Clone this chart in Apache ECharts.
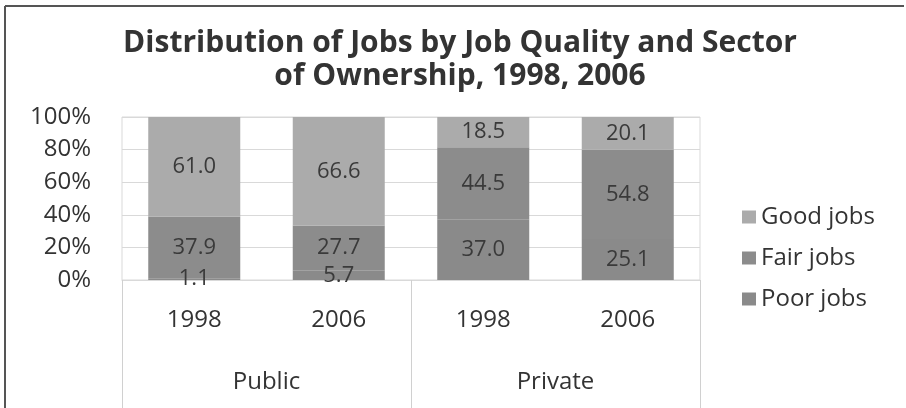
<!DOCTYPE html>
<html>
<head>
<meta charset="utf-8">
<script src="https://cdn.jsdelivr.net/npm/echarts@6/dist/echarts.min.js"></script>
<style>
html,body{margin:0;padding:0;background:#fff;}
#chart{width:906px;height:408px;}
</style>
</head>
<body>
<div id="chart"></div>
<script>
// Data
const years = ['1998', '2006', '1998', '2006'];
const sectors = ['Public', 'Private'];
const poorJobs = [1.1, 5.7, 37.0, 25.1];
const fairJobs = [37.9, 27.7, 44.5, 54.8];
const goodJobs = [61.0, 66.6, 18.5, 20.1];
const yTicks = [0, 20, 40, 60, 80, 100];
const titleText = 'Distribution of Jobs by Job Quality and Sector\nof Ownership, 1998, 2006';

const FONT = '"Open Sans", "Liberation Sans", sans-serif';
const chart = echarts.init(document.getElementById('chart'), null, {renderer: 'canvas'});

const labelCfg = {
  show: true,
  position: 'inside',
  fontFamily: FONT,
  fontSize: 22,
  color: '#3a3a3a',
  formatter: p => Number(p.value).toFixed(1)
};

chart.setOption({
  animation: false,
  backgroundColor: '#fff',
  textStyle: {fontFamily: FONT},
  title: {
    text: titleText,
    left: 455,
    top: 22,
    textAlign: 'center',
    textStyle: {fontFamily: FONT, fontSize: 30, fontWeight: 'bold', color: '#333', lineHeight: 33}
  },
  legend: {
    orient: 'vertical',
    left: 737,
    top: 200,
    itemWidth: 14,
    itemHeight: 13,
    itemGap: 17,
    icon: 'rect',
    data: ['Good jobs', 'Fair jobs', 'Poor jobs'],
    textStyle: {fontFamily: FONT, fontSize: 24, lineHeight: 24, color: '#333'}
  },
  grid: {
    left: 122, right: 206, top: 117, bottom: 128,
    show: true, borderColor: '#d9d9d9', borderWidth: 1, backgroundColor: 'transparent'
  },
  xAxis: [
    {
      type: 'category',
      data: years,
      position: 'bottom',
      axisLine: {show: true, lineStyle: {color: '#d9d9d9'}},
      axisTick: {show: false},
      axisLabel: {margin: 28, fontFamily: FONT, fontSize: 24, color: '#333', interval: 0}
    },
    {
      type: 'category',
      data: sectors,
      position: 'bottom',
      offset: 0,
      axisLine: {show: false},
      axisTick: {show: true, length: 130, lineStyle: {color: '#d0d0d0'}},
      axisLabel: {margin: 90, fontFamily: FONT, fontSize: 24, color: '#333', interval: 0}
    }
  ],
  yAxis: {
    type: 'value',
    min: 0, max: 100, interval: 20,
    axisLine: {show: false},
    axisTick: {show: false},
    splitLine: {lineStyle: {color: '#d9d9d9'}},
    axisLabel: {margin: 31, fontFamily: FONT, fontSize: 24, color: '#333', formatter: v => v + '%'},
  },
  series: [
    {name: 'Poor jobs', type: 'bar', stack: 'all', barWidth: 92, data: poorJobs,
     itemStyle: {color: '#8a8a8a'}, label: labelCfg},
    {name: 'Fair jobs', type: 'bar', stack: 'all', barWidth: 92, data: fairJobs,
     itemStyle: {color: '#8c8c8c'}, label: labelCfg},
    {name: 'Good jobs', type: 'bar', stack: 'all', barWidth: 92, data: goodJobs,
     itemStyle: {color: '#ababab'}, label: labelCfg}
  ],
  graphic: [
    {type: 'line', shape: {x1: 5, y1: 6, x2: 904, y2: 6}, style: {stroke: '#555', lineWidth: 2}},
    {type: 'line', shape: {x1: 5, y1: 6, x2: 5, y2: 408}, style: {stroke: '#555', lineWidth: 2}}
  ]
});
</script>
</body>
</html>
